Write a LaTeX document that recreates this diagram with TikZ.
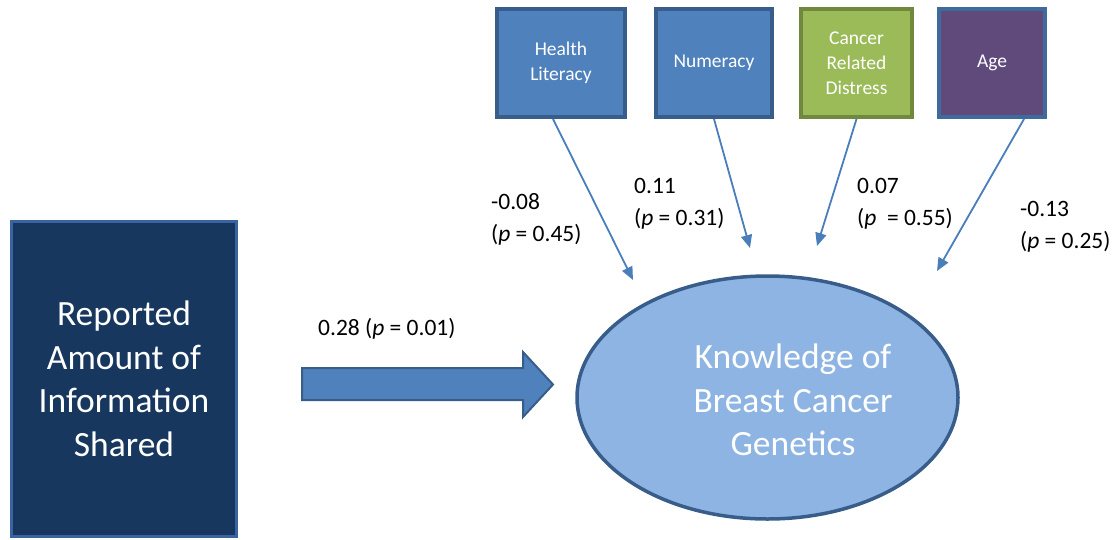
\documentclass[tikz,border=0pt]{standalone}
\usepackage{fontspec}
\setmainfont{Carlito}
\usetikzlibrary{shapes.geometric,arrows.meta}
\definecolor{xanh}{HTML}{4F81BD}
\definecolor{vienxanh}{HTML}{385D8A}
\definecolor{xanhla}{HTML}{9BBB59}
\definecolor{vienla}{HTML}{71893F}
\definecolor{tim}{HTML}{604A7B}
\definecolor{vientim}{HTML}{3F6A9C}
\definecolor{xanhdam}{HTML}{17375E}
\definecolor{vienxanhdam}{HTML}{3A64A0}
\definecolor{xanhnhat}{HTML}{8DB4E2}
\definecolor{muixanh}{HTML}{4A7EBB}
\begin{document}
\begin{tikzpicture}[x=1pt,y=-1pt,
	hop/.style={draw=vienxanh, fill=xanh, line width=4pt, minimum height=108pt, inner sep=0pt, text=white, align=center, font=\fontsize{19.5}{25}\selectfont},
	chulon/.style={text=white, align=center, font=\fontsize{35.5}{43.5}\selectfont},
	nhan/.style={anchor=north west, inner sep=0pt, align=left, font=\fontsize{23.5}{32}\selectfont},
	muiten/.style={-{Triangle[length=13pt,width=11pt]}, color=muixanh, line width=1.8pt}]
	\useasboundingbox (0,0) rectangle (1117,539);
	% Cac hop phia tren
	\node[hop, minimum width=128pt] (hl) at (561,63) {Health\\Literacy};
	\node[hop, minimum width=116pt] (nm) at (714,63) {Numeracy};
	\node[hop, fill=xanhla, draw=vienla, minimum width=111pt] (cr) at (856.5,63) {Cancer\\Related\\Distress};
	\node[hop, fill=tim, draw=vientim, minimum width=106pt] (ag) at (992,63) {Age};
	% Hop ben trai
	\node[chulon, draw=vienxanhdam, fill=xanhdam, line width=3pt, minimum width=225pt, minimum height=315pt] (info) at (124,379) {Reported\\Amount of\\Information\\Shared};
	% Hinh ellipse
	\node[ellipse, draw=vienxanh, fill=xanhnhat, line width=3.5pt, minimum width=381pt, minimum height=243pt, inner sep=0pt] (kn) at (767.5,397.5) {};
	\node[chulon] (kntext) at (793,400) {Knowledge of\\Breast Cancer\\Genetics};
	% Mui ten lon
	\draw[fill=xanh, draw=vienxanh, line width=2pt] (302,368) -- (523,368) -- (523,352) -- (553,384.5) -- (523,417) -- (523,400) -- (302,400) -- cycle;
	\node[nhan] (lE) at (318,318) {0.28 (\textit{p} = 0.01)};
	% Cac mui ten nho
	\coordinate (dA) at (633,280);
	\coordinate (dB) at (750,248);
	\coordinate (dC) at (817,246);
	\coordinate (dD) at (937,271);
	\draw[muiten] ([xshift=-8pt]hl.south) -- (dA);
	\draw[muiten] (nm.south) -- (dB);
	\draw[muiten] (cr.south) -- (dC);
	\draw[muiten] ([xshift=32pt]ag.south) -- (dD);
	% Cac nhan
	\node[nhan] (lA) at (491,193) {-0.08\\(\textit{p} = 0.45)};
	\node[nhan] (lB) at (634,178) {0.11\\(\textit{p} = 0.31)};
	\node[nhan] (lC) at (857,178) {0.07\\(\textit{p}\ \ = 0.55)};
	\node[nhan] (lD) at (1020,201) {-0.13\\(\textit{p} = 0.25)};
\end{tikzpicture}
\end{document}
